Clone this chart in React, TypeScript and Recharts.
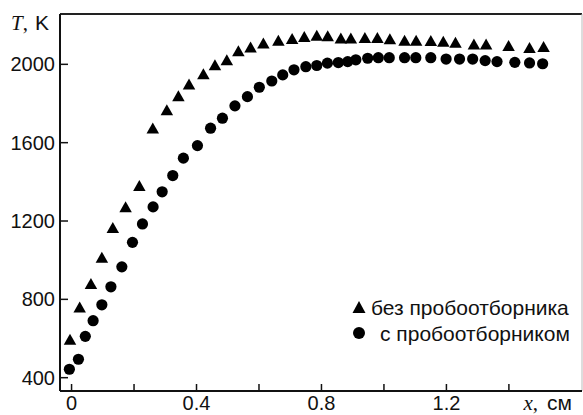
import React from 'react';
import {
  ScatterChart,
  Scatter,
  XAxis,
  YAxis,
  Legend,
  ReferenceLine,
} from 'recharts';

// x, cm — without sampler (triangles)
const xNoProbe = [
  -0.005, 0.026, 0.062, 0.097, 0.132, 0.173, 0.217, 0.26, 0.305, 0.342,
  0.376, 0.422, 0.459, 0.497, 0.534, 0.573, 0.614, 0.662, 0.706, 0.745,
  0.785, 0.82, 0.862, 0.894, 0.939, 0.979, 1.019, 1.066, 1.103, 1.15,
  1.19, 1.229, 1.288, 1.327, 1.399, 1.466, 1.511,
];
const tNoProbe = [
  587, 751, 871, 1006, 1158, 1263, 1372, 1665, 1759, 1830,
  1890, 1942, 1988, 2014, 2060, 2079, 2099, 2113, 2123, 2133,
  2139, 2136, 2125, 2125, 2128, 2128, 2121, 2113, 2113, 2112,
  2109, 2103, 2095, 2095, 2087, 2077, 2082,
];

// x, cm — with sampler (circles)
const xProbe = [
  -0.007, 0.022, 0.044, 0.069, 0.097, 0.126, 0.161, 0.195, 0.227, 0.261,
  0.29, 0.324, 0.358, 0.403, 0.445, 0.483, 0.523, 0.563, 0.601, 0.641,
  0.676, 0.712, 0.75, 0.785, 0.819, 0.854, 0.884, 0.91, 0.948, 0.982,
  1.017, 1.066, 1.102, 1.15, 1.199, 1.242, 1.284, 1.324, 1.362, 1.419,
  1.466, 1.508,
];
const tProbe = [
  443, 494, 611, 691, 772, 864, 966, 1091, 1185, 1272,
  1349, 1432, 1521, 1585, 1674, 1725, 1788, 1835, 1883, 1915,
  1946, 1972, 1988, 1994, 2006, 2009, 2014, 2023, 2031, 2034,
  2034, 2034, 2034, 2034, 2027, 2027, 2027, 2019, 2014, 2010,
  2007, 2003,
];

const xTicks = [0, 0.2, 0.4, 0.6, 0.8, 1.0, 1.2, 1.4];
const xLabeled = [0, 0.4, 0.8, 1.2];
const yTicks = [400, 800, 1200, 1600, 2000];

const X_DOMAIN: [number, number] = [-0.037, 1.634];
const Y_DOMAIN: [number, number] = [332, 2257];

const noProbeData = xNoProbe.map((x, i) => ({ x, t: tNoProbe[i] }));
const probeData = xProbe.map((x, i) => ({ x, t: tProbe[i] }));

const FONT = '"Liberation Sans", Arial, sans-serif';
const SERIF = '"Liberation Serif", "DejaVu Serif", serif';

const Triangle = ({ cx, cy }: any) => {
  if (cx == null || cy == null) return null;
  const w = 12.5, h = 11;
  return (
    <path
      d={`M${cx},${cy - (2 * h) / 3} L${cx + w / 2},${cy + h / 3} L${cx - w / 2},${cy + h / 3} Z`}
      fill="#000"
    />
  );
};

const Dot = ({ cx, cy }: any) => {
  if (cx == null || cy == null) return null;
  return <circle cx={cx} cy={cy} r={5.6} fill="#000" />;
};

const renderLegend = ({ payload }: any) => (
  <div style={{ fontFamily: FONT, fontSize: 21, color: '#111', lineHeight: '25px' }}>
    {(payload || []).map((entry: any, idx: number) => (
      <div key={idx} style={{ display: 'flex', alignItems: 'center', height: 26 }}>
        <svg width={14} height={14} style={{ flex: 'none' }}>
          {idx === 0 ? (
            <path d="M7,1 L13.5,13 L0.5,13 Z" fill="#000" />
          ) : (
            <circle cx={7} cy={7} r={6} fill="#000" />
          )}
        </svg>
        <span style={{ paddingLeft: idx === 0 ? 5 : 14, whiteSpace: 'nowrap' }}>{entry.value}</span>
      </div>
    ))}
  </div>
);

const XLabel = ({ viewBox }: any) => {
  const { x, y, width } = viewBox;
  return (
    <text x={x + width - 10} y={y + 19} textAnchor="end" fill="#111" fontSize={21}>
      <tspan fontFamily={SERIF} fontStyle="italic">x</tspan>
      <tspan fontFamily={SERIF}>,</tspan>
      <tspan fontFamily={FONT} dx={9}>см</tspan>
    </text>
  );
};

const YLabel = ({ viewBox }: any) => {
  const { x } = viewBox;
  return (
    <text x={x + 11} y={30} fill="#111" fontSize={21}>
      <tspan fontFamily={SERIF} fontStyle="italic">T</tspan>
      <tspan fontFamily={SERIF}>,</tspan>
      <tspan fontFamily={FONT} dx={7}>K</tspan>
    </text>
  );
};

export default function App() {
  return (
    <div style={{ position: 'absolute', left: 0, top: 0, width: 583, height: 415, background: '#fff' }}>
      <ScatterChart width={583} height={415} margin={{ top: 14, right: 1, left: 0, bottom: 0 }}>
        <XAxis
          type="number"
          dataKey="x"
          domain={X_DOMAIN}
          allowDataOverflow
          ticks={xTicks}
          interval={0}
          tickFormatter={(v: number) => (xLabeled.some((l) => Math.abs(l - v) < 1e-6) ? String(v) : '')}
          height={24}
          tickSize={-7}
          tickMargin={12}
          axisLine={{ stroke: '#111', strokeWidth: 2 }}
          tickLine={{ stroke: '#111', strokeWidth: 1.5 }}
          tick={{ fill: '#111', fontSize: 20, fontFamily: FONT }}
          label={<XLabel />}
        />
        <YAxis
          type="number"
          dataKey="t"
          domain={Y_DOMAIN}
          allowDataOverflow
          ticks={yTicks}
          interval={0}
          width={60}
          tickSize={-8}
          tickMargin={13}
          axisLine={{ stroke: '#111', strokeWidth: 2 }}
          tickLine={{ stroke: '#111', strokeWidth: 1.5 }}
          tick={{ fill: '#111', fontSize: 20, fontFamily: FONT }}
          label={<YLabel />}
        />
        <ReferenceLine y={Y_DOMAIN[1]} stroke="#222" strokeWidth={2} ifOverflow="visible" />
        <ReferenceLine x={X_DOMAIN[1]} stroke="#bbb" strokeWidth={1} ifOverflow="visible" />
        <Legend
          content={renderLegend}
          layout="vertical"
          align="center"
          verticalAlign="middle"
          wrapperStyle={{ position: 'absolute', left: 352, top: 294, width: 231 }}
        />
        <Scatter name="без пробоотборника" data={noProbeData} shape={<Triangle />} fill="#000" isAnimationActive={false} />
        <Scatter name="с пробоотборником" data={probeData} shape={<Dot />} fill="#000" isAnimationActive={false} />
      </ScatterChart>
    </div>
  );
}
